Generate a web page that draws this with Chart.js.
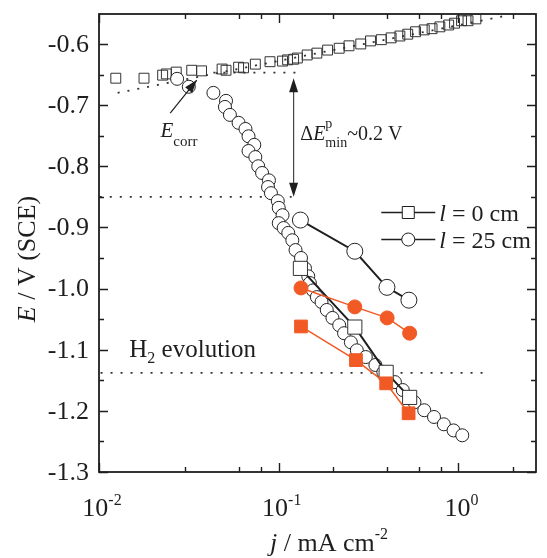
<!DOCTYPE html>
<html>
<head>
<meta charset="utf-8">
<script src="https://cdn.jsdelivr.net/npm/chart.js@4.4.0/dist/chart.umd.min.js"></script>
<style>
  html, body { margin: 0; padding: 0; background: #fff; }
  canvas { display: block; }
</style>
</head>
<body>
<canvas id="chart" width="547" height="558"></canvas>
<script>
// valores: j en mA cm-2, E en V (SCE)

// cuadrados abiertos, rama superior
const anodicJ = [0.0124, 0.0178, 0.0226, 0.0237, 0.0269, 0.0328, 0.0372, 0.0484, 0.0509, 0.0598,
  0.0637, 0.0741, 0.0894, 0.105, 0.112, 0.121, 0.127, 0.144, 0.163, 0.187, 0.217, 0.246, 0.286,
  0.324, 0.372, 0.422, 0.472, 0.522, 0.577, 0.645, 0.713, 0.788, 0.882, 0.951, 1.04, 1.13, 1.25];
const anodicE = [-0.656, -0.656, -0.651, -0.649, -0.646, -0.643, -0.644, -0.641, -0.643, -0.638,
  -0.639, -0.633, -0.629, -0.628, -0.626, -0.625, -0.623, -0.618, -0.615, -0.610, -0.607, -0.603, -0.600,
  -0.595, -0.593, -0.590, -0.587, -0.584, -0.580, -0.577, -0.575, -0.572, -0.569, -0.566, -0.562, -0.562, -0.559];

// circulos abiertos, rama catodica
const cathodicJ = [0.0272, 0.0316, 0.0433, 0.0509, 0.0502, 0.0535, 0.0598, 0.0653, 0.0679, 0.0731,
  0.0679, 0.0741, 0.0769, 0.0808, 0.0882, 0.0872, 0.0905, 0.0988, 0.100, 0.105,
  0.100, 0.1065, 0.113, 0.119, 0.124, 0.133, 0.140, 0.146, 0.149, 0.155,
  0.163, 0.173, 0.185, 0.199, 0.217, 0.231, 0.252, 0.272, 0.305, 0.345,
  0.382, 0.443, 0.490, 0.569, 0.645, 0.731, 0.829, 0.939, 1.05];
const cathodicE = [-0.657, -0.670, -0.680, -0.693, -0.703, -0.716, -0.729, -0.739, -0.751, -0.765,
  -0.775, -0.785, -0.800, -0.811, -0.823, -0.834, -0.844, -0.857, -0.868, -0.880,
  -0.893, -0.901, -0.909, -0.921, -0.937, -0.950, -0.967, -0.980, -0.991, -1.003,
  -1.014, -1.022, -1.035, -1.048, -1.060, -1.073, -1.088, -1.101, -1.112, -1.125,
  -1.137, -1.153, -1.166, -1.186, -1.199, -1.210, -1.222, -1.232, -1.240];

// l = 0 cm y l = 25 cm
const l0J = [0.132, 0.265, 0.396, 0.535];
const l0E = [-0.967, -1.063, -1.137, -1.178];
const l25J = [0.132, 0.265, 0.400, 0.530];
const l25E = [-0.888, -0.939, -0.998, -1.019];

// series rojas (rellenas)
const redCircJ = [0.133, 0.265, 0.401, 0.535];
const redCircE = [-0.999, -1.030, -1.048, -1.073];
const redSqJ = [0.133, 0.269, 0.396, 0.528];
const redSqE = [-1.062, -1.117, -1.155, -1.204];

// lineas punteadas
const tafelJ = [0.0127, 1.9];
const tafelE = [-0.680, -0.553];
const ecorrLineJ = [0.0433, 0.128];
const ecorrLineE = [-0.647, -0.647];
const pitLineJ = [0.0101, 0.118];
const pitLineE = [-0.850, -0.850];
const h2LineJ = [0.0102, 1.5];
const h2LineE = [-1.138, -1.138];

// ejes
const xDecades = [0.01, 0.1, 1];
const xDecadeExp = ['-2', '-1', '0'];
const yTickLabels = ['-1.3', '-1.2', '-1.1', '-1.0', '-0.9', '-0.8', '-0.7', '-0.6'];

const RED = '#f15a24';
const INK = '#1e1e1e';
const FONT = '"Liberation Serif", "Times New Roman", serif';

function font(size, italic) {
    return (italic ? 'italic ' : '') + size + 'px ' + FONT;
}

function pts(xs, ys) {
    return xs.map((v, i) => ({ x: v, y: ys[i] }));
}

// texto con partes en cursiva, super y subindices
function richText(ctx, x, y, parts, align) {
    let w = 0;
    parts.forEach(p => {
        ctx.font = font(p.size, p.italic);
        p.w = ctx.measureText(p.t).width;
        if (!p.stay) w += p.w;
    });
    let cx = align === 'center' ? x - w / 2 : x;
    parts.forEach(p => {
        ctx.font = font(p.size, p.italic);
        ctx.fillText(p.t, cx, y + (p.dy || 0));
        if (!p.stay) cx += p.w;
    });
}

function arrowHead(ctx, x1, y1, x2, y2, len, half) {
    const a = Math.atan2(y2 - y1, x2 - x1);
    ctx.beginPath();
    ctx.moveTo(x2, y2);
    ctx.lineTo(x2 - len * Math.cos(a) + half * Math.sin(a), y2 - len * Math.sin(a) - half * Math.cos(a));
    ctx.lineTo(x2 - len * Math.cos(a) - half * Math.sin(a), y2 - len * Math.sin(a) + half * Math.cos(a));
    ctx.closePath();
    ctx.fill();
}

function dotted(xs, ys) {
    return {
        data: pts(xs, ys), showLine: true, pointRadius: 0,
        borderColor: '#333', borderWidth: 1.8, borderDash: [2, 8]
    };
}

// marco, marcas, etiquetas y anotaciones
const decor = {
    id: 'decor',
    afterDraw(chart) {
        const { ctx, chartArea: a, scales: { x, y } } = chart;
        ctx.save();
        ctx.strokeStyle = INK;
        ctx.fillStyle = INK;

        // marcas del eje x (hacia dentro, abajo y arriba)
        ctx.lineWidth = 1.4;
        x.ticks.forEach(t => {
            const v = t.value;
            const e = Math.floor(Math.log10(v) + 1e-9);
            const m = v / Math.pow(10, e);
            if (Math.abs(m - Math.round(m)) > 1e-6) return;
            const px = Math.round(x.getPixelForValue(v)) + 0.5;
            const len = Math.round(m) === 1 ? 9 : 5;
            ctx.beginPath();
            ctx.moveTo(px, a.bottom); ctx.lineTo(px, a.bottom - len);
            ctx.moveTo(px, a.top); ctx.lineTo(px, a.top + len);
            ctx.stroke();
        });
        // marcas del eje y
        y.ticks.forEach(t => {
            const k = Math.round(t.value * 20);
            if (Math.abs(t.value * 20 - k) > 1e-6) return;
            const py = Math.round(y.getPixelForValue(t.value)) + 0.5;
            const len = k % 2 === 0 ? 9 : 5;
            ctx.beginPath();
            ctx.moveTo(a.left, py); ctx.lineTo(a.left + len, py);
            ctx.moveTo(a.right, py); ctx.lineTo(a.right - len, py);
            ctx.stroke();
        });
        ctx.lineWidth = 1.8;
        ctx.strokeRect(a.left, a.top, a.right - a.left, a.bottom - a.top);

        // etiquetas y
        ctx.textBaseline = 'middle';
        ctx.textAlign = 'right';
        ctx.font = font(26);
        yTickLabels.forEach(s => {
            ctx.fillText(s, a.left - 10, y.getPixelForValue(parseFloat(s)) + 1);
        });
        // etiquetas x
        ctx.textAlign = 'left';
        ctx.textBaseline = 'alphabetic';
        xDecades.forEach((v, i) => {
            richText(ctx, x.getPixelForValue(v) + 3, a.bottom + 44, [
                { t: '10', size: 26 },
                { t: xDecadeExp[i], size: 16, dy: -11 }
            ], 'center');
        });

        // titulos
        richText(ctx, a.left + 171, a.bottom + 79, [
            { t: 'j', size: 26, italic: true },
            { t: ' / mA cm', size: 26 },
            { t: '-2', size: 16, dy: -12 }
        ], 'left');
        ctx.save();
        ctx.translate(a.left - 64, a.top + 245);
        ctx.rotate(-Math.PI / 2);
        richText(ctx, 0, 0, [
            { t: 'E', size: 26, italic: true },
            { t: ' / V (SCE)', size: 26 }
        ], 'center');
        ctx.restore();

        // E_corr
        const ex = x.getPixelForValue(0.022), ey = y.getPixelForValue(-0.752);
        richText(ctx, ex, ey, [
            { t: 'E', size: 21, italic: true },
            { t: 'corr', size: 15, dy: 9 }
        ], 'left');
        ctx.lineWidth = 1.2;
        const a1x = x.getPixelForValue(0.0249), a1y = y.getPixelForValue(-0.713);
        const a2x = x.getPixelForValue(0.035), a2y = y.getPixelForValue(-0.659);
        ctx.beginPath(); ctx.moveTo(a1x, a1y); ctx.lineTo(a2x, a2y); ctx.stroke();
        arrowHead(ctx, a1x, a1y, a2x, a2y, 13, 4.5);

        // flecha Delta E
        const dx = x.getPixelForValue(0.121);
        const dTop = y.getPixelForValue(-0.656), dBot = y.getPixelForValue(-0.850);
        ctx.strokeStyle = '#444';
        ctx.beginPath(); ctx.moveTo(dx, dTop + 8); ctx.lineTo(dx, dBot - 8); ctx.stroke();
        arrowHead(ctx, dx, dBot, dx, dTop, 14, 4.5);
        arrowHead(ctx, dx, dTop, dx, dBot, 14, 4.5);
        richText(ctx, x.getPixelForValue(0.1318), y.getPixelForValue(-0.757), [
            { t: '\u0394', size: 20 },
            { t: 'E', size: 20, italic: true },
            { t: 'p', size: 14, dy: -12, stay: true },
            { t: 'min', size: 14, dy: 7 },
            { t: '~0.2 V', size: 20 }
        ], 'left');

        // H2 evolution
        richText(ctx, x.getPixelForValue(0.01474), y.getPixelForValue(-1.112), [
            { t: 'H', size: 25 },
            { t: '2', size: 16, dy: 6 },
            { t: ' evolution', size: 25 }
        ], 'left');

        // leyenda
        const lx = x.getPixelForValue(0.372);
        [[-0.875, 'rect', '0'], [-0.919, 'circle', '25']].forEach(([e, shape, val]) => {
            const ly = Math.round(y.getPixelForValue(e)) + 0.5;
            ctx.strokeStyle = INK;
            ctx.lineWidth = 1.6;
            ctx.beginPath(); ctx.moveTo(lx, ly); ctx.lineTo(lx + 54, ly); ctx.stroke();
            ctx.fillStyle = '#fff';
            ctx.lineWidth = 1;
            ctx.beginPath();
            if (shape === 'rect') ctx.rect(lx + 21, ly - 6, 12, 12);
            else ctx.arc(lx + 27, ly, 6.5, 0, Math.PI * 2);
            ctx.fill(); ctx.stroke();
            ctx.fillStyle = INK;
            richText(ctx, lx + 58, ly + 8, [
                { t: 'l', size: 24, italic: true },
                { t: ' = ' + val + ' cm', size: 24 }
            ], 'left');
        });
        ctx.restore();
    }
};

new Chart(document.getElementById('chart'), {
    type: 'scatter',
    data: {
        datasets: [
            {   // l = 0, rojo
                data: pts(redSqJ, redSqE), showLine: true,
                borderColor: RED, borderWidth: 1.5,
                pointStyle: 'rect', pointRadius: 9,
                pointBackgroundColor: RED, pointBorderColor: RED, pointBorderWidth: 1
            },
            {   // l = 25, rojo
                data: pts(redCircJ, redCircE), showLine: true,
                borderColor: RED, borderWidth: 1.5,
                pointStyle: 'circle', pointRadius: 7,
                pointBackgroundColor: RED, pointBorderColor: RED, pointBorderWidth: 1
            },
            {   // l = 0 cm
                data: pts(l0J, l0E), showLine: true,
                borderColor: INK, borderWidth: 2,
                pointStyle: 'rect', pointRadius: 10,
                pointBackgroundColor: '#fff', pointBorderColor: '#333', pointBorderWidth: 1
            },
            {   // l = 25 cm
                data: pts(l25J, l25E), showLine: true,
                borderColor: INK, borderWidth: 2,
                pointStyle: 'circle', pointRadius: 8,
                pointBackgroundColor: '#fff', pointBorderColor: '#222', pointBorderWidth: 1
            },
            {
                data: pts(cathodicJ, cathodicE),
                pointStyle: 'circle', pointRadius: 6.5,
                pointBackgroundColor: '#fff', pointBorderColor: '#222', pointBorderWidth: 1
            },
            {
                data: pts(anodicJ, anodicE),
                pointStyle: 'rect', pointRadius: 7,
                pointBackgroundColor: 'rgba(255,255,255,0)', pointBorderColor: '#333', pointBorderWidth: 1
            },
            dotted(tafelJ, tafelE),
            dotted(ecorrLineJ, ecorrLineE),
            dotted(pitLineJ, pitLineE),
            dotted(h2LineJ, h2LineE)
        ]
    },
    options: {
        responsive: false,
        devicePixelRatio: 1,
        animation: false,
        layout: { padding: { left: 99, top: 14, right: 1, bottom: 86 } },
        plugins: { legend: { display: false }, tooltip: { enabled: false } },
        scales: {
            x: { type: 'logarithmic', min: 0.01, max: 2.7, display: false },
            y: { type: 'linear', min: -1.3, max: -0.551, display: false, ticks: { stepSize: 0.05 } }
        }
    },
    plugins: [decor]
});
</script>
</body>
</html>
